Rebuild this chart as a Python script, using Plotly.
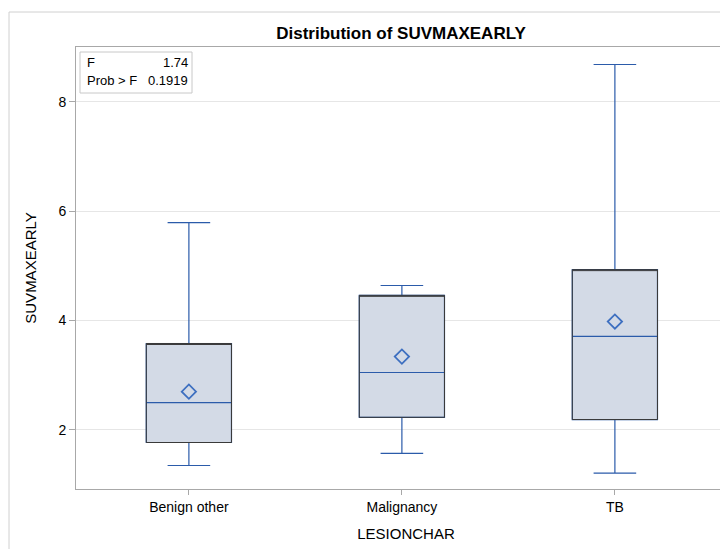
import plotly.graph_objects as go

categories = ["Benign other", "Malignancy", "TB"]
lower_whisker = [1.35, 1.57, 1.21]
q1 = [1.77, 2.23, 2.19]
median = [2.50, 3.05, 3.71]
q3 = [3.58, 4.46, 4.93]
upper_whisker = [5.79, 4.64, 8.68]
means = [2.70, 3.34, 3.98]
y_ticks = [2, 4, 6, 8]
f_label = ["F", "Prob > F"]
f_value = ["1.74", "0.1919"]

BLUE = "#2B5BAA"
FILL = "#D3DAE6"
FONT = "Liberation Sans, Arial, sans-serif"

OFF = 8
L, T = 76 - OFF, 47 - OFF
B_PX = 489 - OFF
PW, PH = 660, 442
UNIT = 213.0
X0 = -0.53


def px_x(px):
    return (px - OFF - L) / PW


def px_y(py):
    return (B_PX - (py - OFF)) / PH


fig = go.Figure()
fig.add_trace(go.Box(
    x=categories, q1=q1, median=median, q3=q3,
    lowerfence=lower_whisker, upperfence=upper_whisker,
    fillcolor=FILL, line=dict(color=BLUE, width=1.2),
    width=0.4, whiskerwidth=0.5, boxpoints=False, showlegend=False,
    hoverinfo="skip",
))
fig.add_trace(go.Box(
    x=categories, q1=q1, median=q3, q3=q3,
    lowerfence=q1, upperfence=q3,
    fillcolor="rgba(0,0,0,0)", line=dict(color="#3a3a3a", width=1),
    width=0.4, whiskerwidth=0, boxpoints=False, showlegend=False,
    hoverinfo="skip",
))
fig.add_trace(go.Scatter(
    x=categories, y=means, mode="markers",
    marker=dict(symbol="diamond-open", size=11, color="#3D6FC0",
                line=dict(width=1.8, color="#3D6FC0")),
    showlegend=False, hoverinfo="skip",
))

fig.add_shape(type="rect", xref="paper", yref="paper",
              x0=px_x(80), x1=px_x(192), y0=px_y(93), y1=px_y(52),
              line=dict(color="#c8c8c8", width=1), fillcolor="white")
for i, (lab, val) in enumerate(zip(f_label, f_value)):
    ypx = 62 + i * 19
    fig.add_annotation(xref="paper", yref="paper", x=px_x(85), y=px_y(ypx),
                       text=lab, showarrow=False, xanchor="left", yanchor="middle",
                       font=dict(size=13, color="#000", family=FONT))
    fig.add_annotation(xref="paper", yref="paper", x=px_x(190), y=px_y(ypx),
                       text=val, showarrow=False, xanchor="right", yanchor="middle",
                       font=dict(size=13, color="#000", family=FONT))

fig.add_shape(type="line", xref="paper", yref="paper",
              x0=px_x(9), x1=px_x(9), y0=px_y(570), y1=px_y(12),
              line=dict(color="#d0d0d0", width=1))
fig.add_shape(type="line", xref="paper", yref="paper",
              x0=px_x(9), x1=1.05, y0=px_y(12), y1=px_y(12),
              line=dict(color="#d0d0d0", width=1))

fig.update_layout(
    width=728, height=549,
    margin=dict(l=L, r=728 - L - PW, t=T, b=549 - B_PX),
    paper_bgcolor="white", plot_bgcolor="white",
    boxmode="overlay",
    title=dict(text="<b>Distribution of SUVMAXEARLY</b>", x=(401 - OFF) / 728,
               xanchor="center", y=1 - (33 - OFF) / 549, yanchor="middle",
               font=dict(size=17, color="#000", family=FONT)),
    font=dict(family=FONT, color="#000"),
    xaxis=dict(
        range=[X0, X0 + PW / UNIT], showline=True, mirror=True,
        linecolor="#a8a8a8", linewidth=1, ticks="outside", ticklen=5,
        tickcolor="#a8a8a8", showgrid=False,
        tickfont=dict(size=14, color="#000"),
        title=dict(text="LESIONCHAR", font=dict(size=15, color="#000"), standoff=14),
    ),
    yaxis=dict(
        range=[0.92, 9.0], tickvals=y_ticks, showline=True, mirror=False,
        linecolor="#a8a8a8", linewidth=1, ticks="outside", ticklen=6,
        tickcolor="#a8a8a8", showgrid=True, gridcolor="#e6e6e6",
        zeroline=False, tickfont=dict(size=14, color="#000"),
        title=dict(text="SUVMAXEARLY", font=dict(size=15, color="#000"), standoff=18),
    ),
)

fig.write_html("out.html")
